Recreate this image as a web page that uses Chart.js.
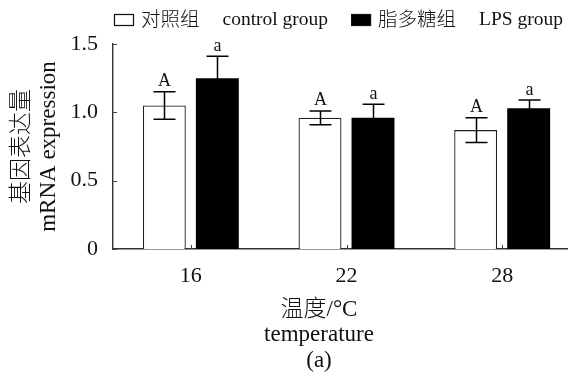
<!DOCTYPE html>
<html><head><meta charset="utf-8">
<script src="https://cdn.jsdelivr.net/npm/chart.js@4.4.0/dist/chart.umd.min.js"></script>
<style>html,body{margin:0;padding:0;background:#fff;width:568px;height:383px;overflow:hidden}canvas{display:block}</style>
</head><body><canvas id="c" width="580" height="383"></canvas>
<script>
const categories = ['16', '22', '28'];
const controlValues = [1.05, 0.96, 0.87];
const controlErrors = [0.10, 0.05, 0.09];
const lpsValues = [1.25, 0.96, 1.03];
const lpsErrors = [0.16, 0.10, 0.06];
const controlLetters = ['A', 'A', 'A'];
const lpsLetters = ['a', 'a', 'a'];
const yTicks = [0, 0.5, 1.0, 1.5];
const controlLabel = ['对照组', 'control group'];
const lpsLabel = ['脂多糖组', 'LPS group'];
const yTitle = ['基因表达量', 'mRNA expression'];
const xTitle = ['温度/°C', 'temperature', '(a)'];

const FAMILY = "'Liberation Serif', 'Noto Sans CJK SC', serif";
const TEXT = '#111';

const errorPlugin = {
  id: 'errorBars',
  afterDatasetsDraw(chart) {
    const ctx = chart.ctx, y = chart.scales.y;
    const errs = [controlErrors, lpsErrors];
    const letters = [controlLetters, lpsLetters];
    chart.data.datasets.forEach((ds, di) => {
      const meta = chart.getDatasetMeta(di);
      meta.data.forEach((bar, i) => {
        const v = ds.data[i], e = errs[di][i];
        const x = Math.round(bar.x) + 0.5;
        const yt = y.getPixelForValue(v + e), yb = y.getPixelForValue(v - e);
        ctx.save();
        ctx.strokeStyle = '#000';
        ctx.lineWidth = 1.5;
        ctx.beginPath();
        ctx.moveTo(x, yt); ctx.lineTo(x, yb);
        ctx.moveTo(x - 11, yt); ctx.lineTo(x + 11, yt);
        ctx.moveTo(x - 11, yb); ctx.lineTo(x + 11, yb);
        ctx.stroke();
        ctx.fillStyle = TEXT;
        ctx.font = '18px ' + FAMILY;
        ctx.textAlign = 'center';
        ctx.textBaseline = 'alphabetic';
        ctx.fillText(letters[di][i], x, yt - 5.5);
        ctx.restore();
      });
    });
  }
};

const decorPlugin = {
  id: 'decor',
  afterDraw(chart) {
    const ctx = chart.ctx, a = chart.chartArea;
    const xs = chart.scales.x, ys = chart.scales.y;
    ctx.save();
    // inward tick marks
    ctx.strokeStyle = '#444';
    ctx.lineWidth = 1;
    ctx.beginPath();
    ys.ticks.forEach(t => {
      const py = Math.round(ys.getPixelForValue(t.value)) + 0.5;
      ctx.moveTo(a.left, py); ctx.lineTo(a.left + 4, py);
    });
    categories.forEach((c, i) => {
      const px = Math.round(xs.getPixelForValue(i)) + 0.5;
      ctx.moveTo(px, a.bottom); ctx.lineTo(px, a.bottom - 4);
    });
    ctx.stroke();

    // legend
    const items = [
      { label: controlLabel, ds: chart.data.datasets[0] },
      { label: lpsLabel, ds: chart.data.datasets[1] }
    ];
    ctx.font = '300 19.5px ' + FAMILY;
    ctx.textBaseline = 'alphabetic';
    ctx.textAlign = 'left';
    let x = 114;
    items.forEach(it => {
      ctx.fillStyle = it.ds.backgroundColor;
      ctx.fillRect(x, 14, 19, 11);
      ctx.strokeStyle = '#111';
      ctx.lineWidth = 1.2;
      ctx.strokeRect(x + 0.5, 14.5, 19, 11);
      x += 19 + 8;
      ctx.fillStyle = TEXT;
      ctx.fillText(it.label[0], x, 25.5);
      x += ctx.measureText(it.label[0]).width + 23;
      ctx.fillText(it.label[1], x, 25);
      x += ctx.measureText(it.label[1]).width + 23;
    });

    // x-axis title
    ctx.font = '300 23px ' + FAMILY;
    ctx.textAlign = 'center';
    const baselines = [316, 341, 367];
    xTitle.forEach((t, i) => ctx.fillText(t, 319, baselines[i]));
    ctx.restore();
  }
};

new Chart(document.getElementById('c'), {
  type: 'bar',
  data: {
    labels: categories,
    datasets: [
      {
        label: controlLabel.join(' '),
        data: controlValues,
        backgroundColor: '#ffffff',
        borderColor: '#222',
        borderWidth: 1.3,
        categoryPercentage: 0.681,
        barPercentage: 0.81
      },
      {
        label: lpsLabel.join(' '),
        data: lpsValues,
        backgroundColor: '#000000',
        borderWidth: 0,
        categoryPercentage: 0.681,
        barPercentage: 0.81
      }
    ]
  },
  options: {
    responsive: false,
    devicePixelRatio: 1,
    animation: false,
    layout: { padding: { top: 44, left: 0, right: 0, bottom: 0 } },
    plugins: { legend: { display: false }, tooltip: { enabled: false } },
    scales: {
      x: {
        grid: { display: false },
        border: { display: true, color: '#333', width: 1.6 },
        ticks: { color: TEXT, font: { family: FAMILY, size: 22 }, padding: 6 },
        afterFit(s) { s.height = 134; }
      },
      y: {
        min: 0, max: 1.5,
        afterBuildTicks(s) { s.ticks = yTicks.map(v => ({ value: v })); },
        grid: { display: false },
        border: { display: true, color: '#333', width: 1.4 },
        ticks: {
          color: TEXT, font: { family: FAMILY, size: 22 }, padding: 7,
          callback: v => (v === 0 ? '0' : Number(v).toFixed(1))
        },
        title: {
          display: true, text: yTitle, color: TEXT,
          font: { family: FAMILY, size: 23, lineHeight: 1.2, weight: 300 },
          padding: { top: 8, bottom: 0 }
        },
        afterFit(s) { s.width = 113; }
      }
    }
  },
  plugins: [errorPlugin, decorPlugin]
});
</script>
</body></html>
